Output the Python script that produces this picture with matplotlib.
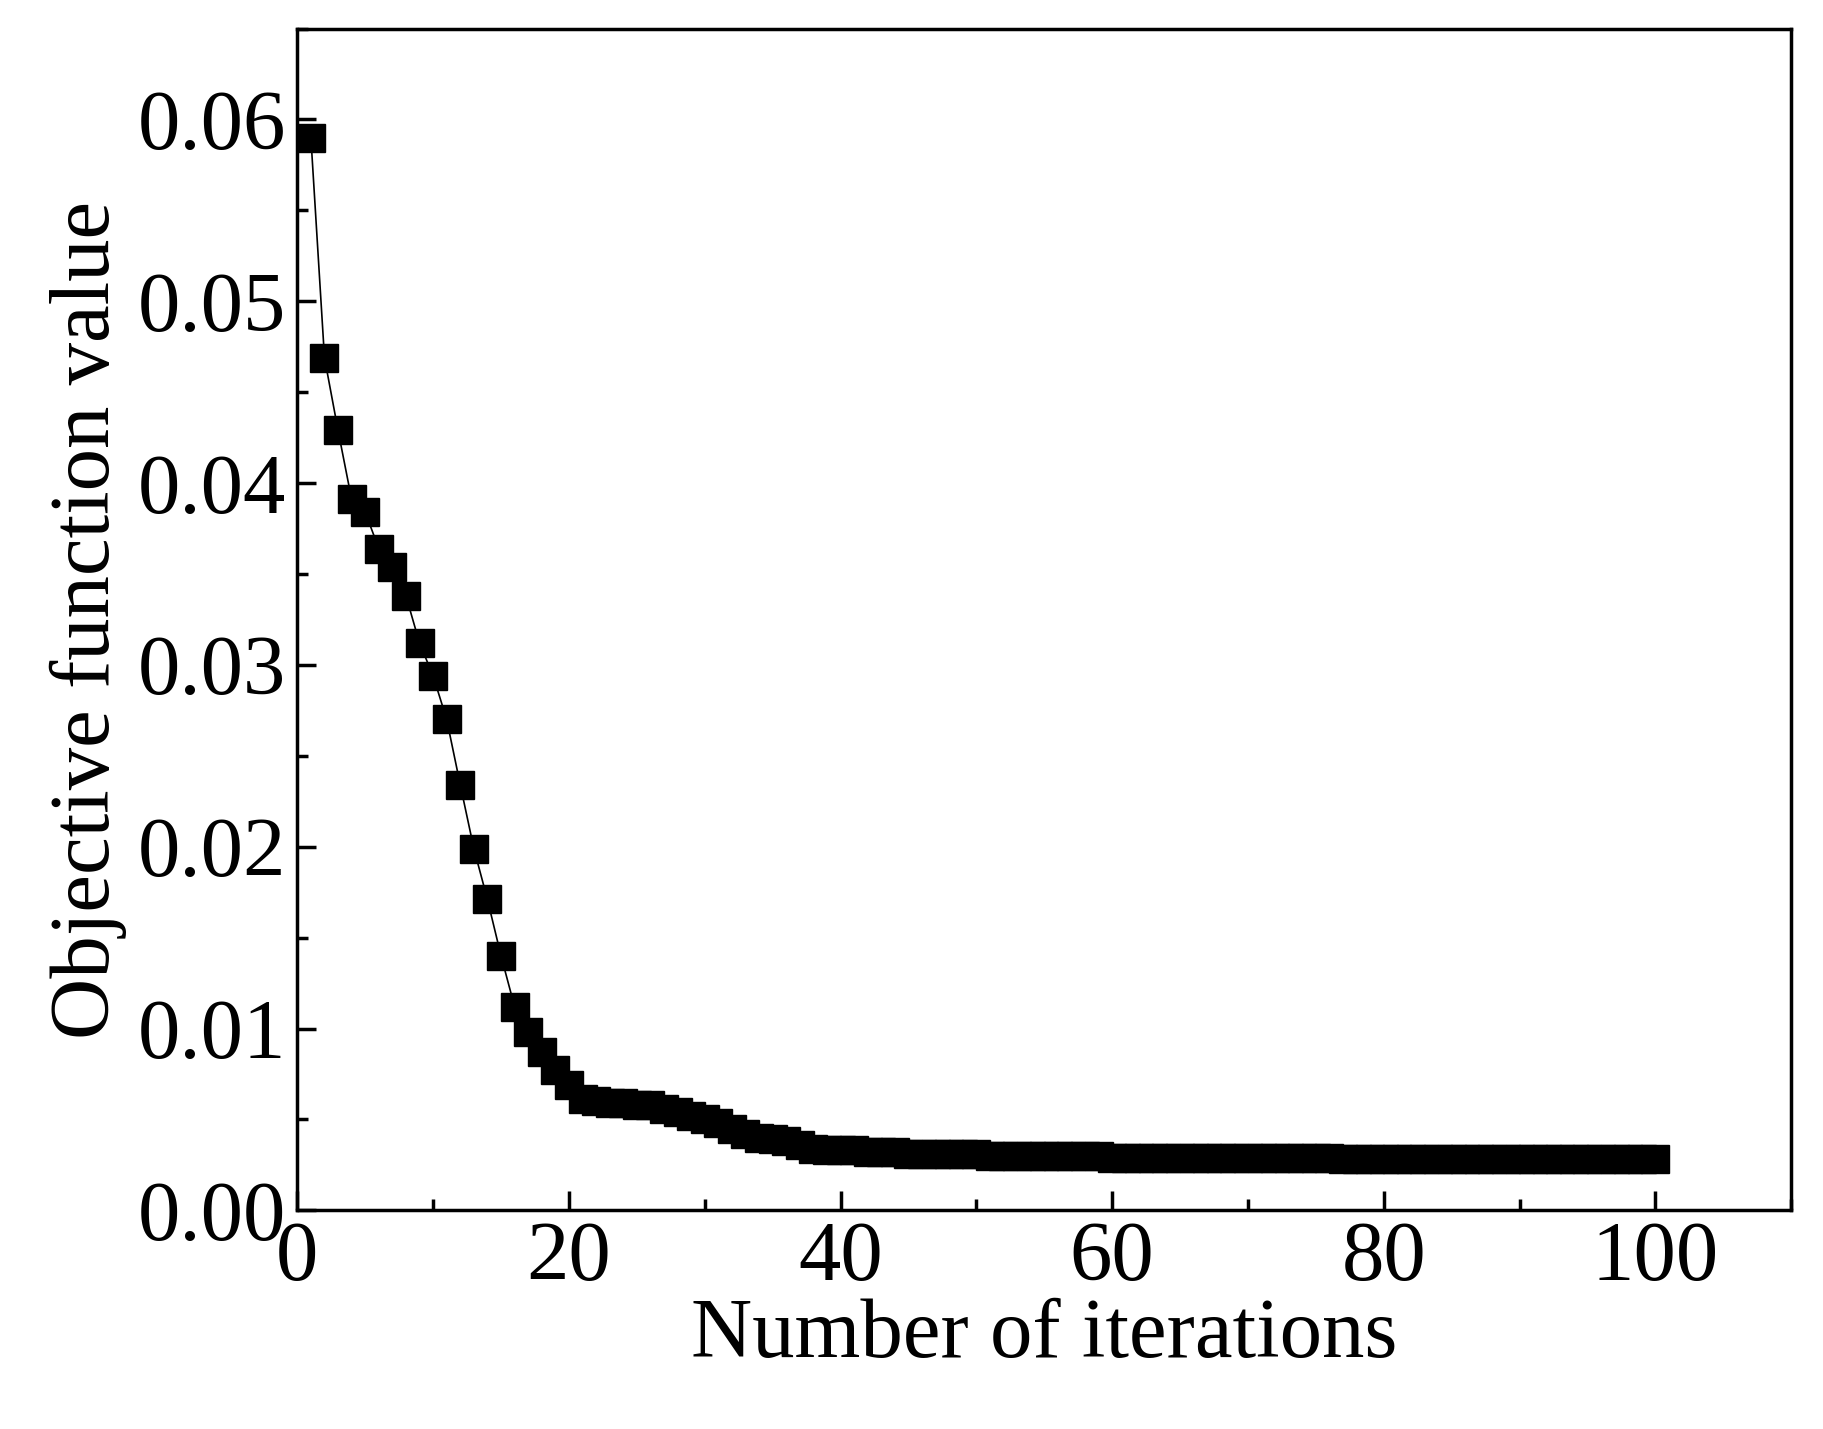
import matplotlib.pyplot as plt
import numpy as np
from matplotlib.ticker import MultipleLocator

plt.rcParams['font.family'] = ['Liberation Serif', 'DejaVu Serif']

iterations = np.arange(1, 101)
objective = [
    0.0590, 0.0469, 0.0429, 0.0391, 0.0384, 0.0364, 0.0354, 0.0338, 0.0312, 0.0294,
    0.0270, 0.0234, 0.0199, 0.0171, 0.0140, 0.0112, 0.0098, 0.0087, 0.0077, 0.0069,
    0.0061, 0.0060, 0.0059, 0.0059, 0.0058, 0.0058, 0.0056, 0.0054, 0.0052, 0.0050,
    0.0048, 0.0045, 0.0042, 0.0040, 0.0039, 0.0038, 0.0036, 0.0034, 0.0033, 0.0033,
    0.0033, 0.0032, 0.0032, 0.0032, 0.0031, 0.0031, 0.0031, 0.0031, 0.0031, 0.0031,
    0.0030, 0.0030, 0.0030, 0.0030, 0.0030, 0.0030, 0.0030, 0.0030, 0.0030, 0.0029,
    0.0029, 0.0029, 0.0029, 0.0029, 0.0029, 0.0029, 0.0029, 0.0029, 0.0029, 0.0029,
    0.0029, 0.0029, 0.0029, 0.0029, 0.0029, 0.0029, 0.0028, 0.0028, 0.0028, 0.0028,
    0.0028, 0.0028, 0.0028, 0.0028, 0.0028, 0.0028, 0.0028, 0.0028, 0.0028, 0.0028,
    0.0028, 0.0028, 0.0028, 0.0028, 0.0028, 0.0028, 0.0028, 0.0028, 0.0028, 0.0028,
]

fig = plt.figure(figsize=(18.24, 14.29), dpi=100)
ax = fig.add_axes([0.163, 0.153, 0.819, 0.827])
ax.plot(iterations, objective, color='black', lw=1.2, marker='s', markersize=20)

ax.set_xlim(0, 110)
ax.set_ylim(0, 0.065)
ax.xaxis.set_major_locator(MultipleLocator(20))
ax.xaxis.set_minor_locator(MultipleLocator(10))
ax.yaxis.set_major_locator(MultipleLocator(0.01))
ax.yaxis.set_minor_locator(MultipleLocator(0.005))
ax.yaxis.set_major_formatter(plt.FuncFormatter(lambda v, p: f"{v:.2f}"))
ax.tick_params(which='both', direction='in', top=False, right=False, width=2.5, labelsize=61, pad=8)
ax.tick_params(which='major', length=14)
ax.tick_params(which='minor', length=8)
for s in ax.spines.values():
    s.set_linewidth(2.5)
ax.set_xlabel("Number of iterations", fontsize=61, labelpad=0)
ax.set_ylabel("Objective function value", fontsize=61, labelpad=8)

fig.savefig("out.png", dpi=100)
